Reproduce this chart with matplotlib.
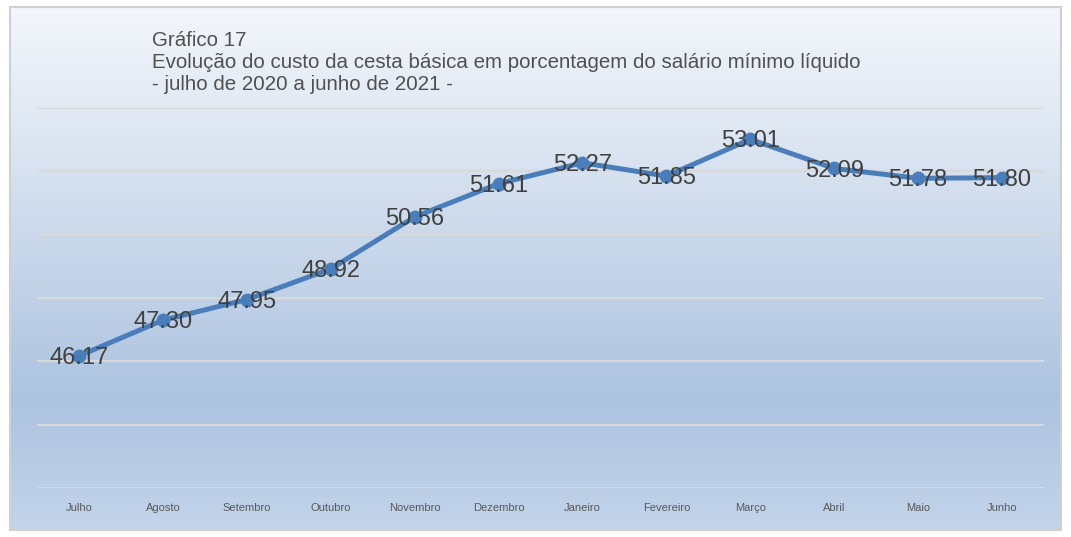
import matplotlib
matplotlib.use("Agg")
import matplotlib.pyplot as plt
import numpy as np
from matplotlib.colors import LinearSegmentedColormap
from matplotlib.patches import Rectangle

months = ["Julho", "Agosto", "Setembro", "Outubro", "Novembro", "Dezembro",
          "Janeiro", "Fevereiro", "Março", "Abril", "Maio", "Junho"]
values = [46.17, 47.30, 47.95, 48.92, 50.56, 51.61,
          52.27, 51.85, 53.01, 52.09, 51.78, 51.80]
title_lines = ["Gráfico 17",
               "Evolução do custo da cesta básica em porcentagem do salário mínimo líquido",
               "- julho de 2020 a junho de 2021 -"]

plt.rcParams["font.family"] = ["Liberation Sans", "DejaVu Sans"]

W, H = 1071, 537
fig = plt.figure(figsize=(W / 100, H / 100), dpi=100)
fig.patch.set_facecolor("white")

# gradient background inside the chart frame
bg = fig.add_axes([10 / W, 1 - 530 / H, 1051 / W, 523 / H])
bg.set_axis_off()
cmap = LinearSegmentedColormap.from_list(
    "bg", [(0.0, "#f3f6fb"), (0.25, "#dde6f2"), (0.75, "#adc3e0"), (1.0, "#c3d4ea")])
grad = np.linspace(0, 1, 256).reshape(-1, 1)
bg.imshow(grad, aspect="auto", cmap=cmap, extent=[0, 1, 0, 1], origin="upper")
bg.add_patch(Rectangle((0, 0), 1, 1, transform=bg.transAxes, fill=False,
                       edgecolor="#d0d0d0", linewidth=1.5, clip_on=False))
bg.set_xlim(0, 1)
bg.set_ylim(0, 1)

# plot area
ax = fig.add_axes([37 / W, 1 - 488 / H, (1044 - 37) / W, (488 - 108) / H])
ax.patch.set_alpha(0)
x = np.arange(len(months))
ax.set_xlim(-0.5, len(months) - 0.5)
ax.set_ylim(42, 54)
ax.set_yticks(np.arange(42, 55, 2))
ax.yaxis.grid(True, color="#d9d9d9", linewidth=1.5)
ax.set_axisbelow(True)
ax.tick_params(axis="y", left=False, labelleft=False)
ax.tick_params(axis="x", length=0, pad=11, labelsize=8, labelcolor="#595959")
ax.set_xticks(x)
ax.set_xticklabels(months)
for s in ax.spines.values():
    s.set_visible(False)

ax.plot(x, values, color="#4a7ebb", linewidth=3.6, marker="o", markersize=9,
        solid_capstyle="round")
for xi, v in zip(x, values):
    ax.annotate(f"{v:.2f}", (xi, v), xytext=(0, -5.8), textcoords="offset points",
                ha="center", va="baseline", fontsize=17, color="#404040")

for i, line in enumerate(title_lines):
    fig.text(152 / W, 1 - (46 + i * 22) / H, line, ha="left", va="baseline",
             fontsize=14.8, color="#505050")

fig.savefig("out.png", dpi=100)
